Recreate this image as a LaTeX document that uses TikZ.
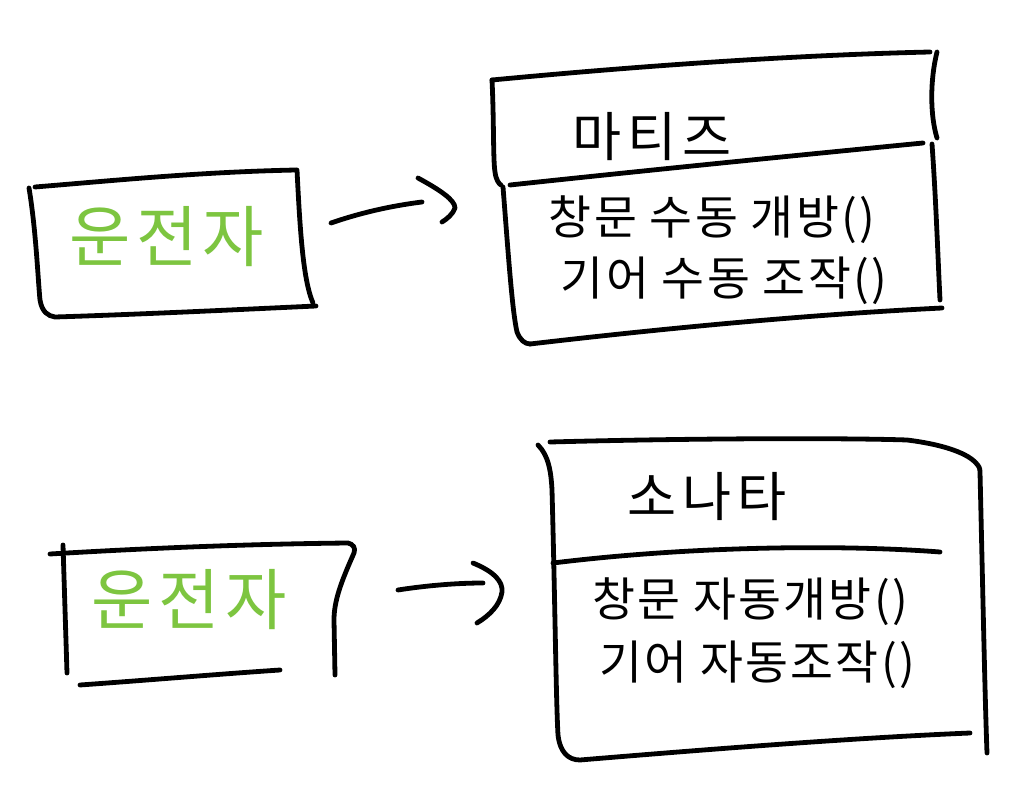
\documentclass[tikz,border=0pt]{standalone}
\usepackage{fontspec}
\newfontfamily\kr{Noto Sans CJK KR}
\newfontfamily\krdrv[LetterSpace=8]{Noto Sans CJK KR}
\newfontfamily\krttl[LetterSpace=12]{Noto Sans CJK KR}
\newfontfamily\krmth[LetterSpace=5]{Noto Sans CJK KR}
\definecolor{drvgreen}{RGB}{125,197,64}
\begin{document}
\begin{tikzpicture}[x=0.75pt,y=-0.75pt,
  ink/.style={line width=3.6pt, line cap=round, line join=round},
  drv/.style={inner sep=0pt, text=drvgreen, font=\krdrv\fontsize{50}{54}\selectfont},
  ttl/.style={inner sep=0pt, font=\krttl\fontsize{40}{44}\selectfont},
  mth/.style={inner sep=0pt, font=\krmth\fontsize{35}{38}\selectfont}]
\useasboundingbox (0,0) rectangle (1018,788);
\fill[white] (0,0) rectangle (1018,788);

% ---- Box 1: driver (top)
\draw[ink] (35,187) .. controls (120,180) and (200,172) .. (296,170);
\draw[ink] (297,170) .. controls (300,230) and (303,280) .. (313,303);
\draw[ink] (29,188) .. controls (36,230) and (38,280) .. (40,300) .. controls (42,312) and (48,316) .. (55,317)
  .. controls (150,314) and (250,309) .. (316,306);
\node[drv] (d1) at (167,237) {운전자};

% ---- Arrow 1
\coordinate (a1s) at (331,223);
\coordinate (a1e) at (422,202);
\draw[ink] (a1s) .. controls (360,213) and (390,206) .. (a1e);
\draw[ink] (418,178) .. controls (440,190) and (455,200) .. (455,208) .. controls (453,214) and (447,219) .. (442,222);

% ---- Box 2: Matiz
\draw[ink] (492,80) .. controls (650,65) and (800,55) .. (930,52);
\draw[ink] (937,52) .. controls (930,80) and (930,115) .. (937,138);
\draw[ink] (932,144) .. controls (936,200) and (938,260) .. (940,300);
\draw[ink] (492,80) .. controls (494,120) and (493,160) .. (495,172) .. controls (496,180) and (499,184) .. (501,185);
\draw[ink] (503,187) .. controls (508,250) and (512,310) .. (517,332) .. controls (520,340) and (525,344) .. (530,344);
\draw[ink] (510,185) .. controls (650,170) and (800,155) .. (923,143);
\draw[ink] (530,344) .. controls (650,330) and (800,315) .. (942,308);
\node[ttl] (t1) at (652,137) {마티즈};
\node[mth] (m11) at (712,220) {창문 수동 개방()};
\node[mth] (m12) at (724,281) {기어 수동 조작()};

% ---- Box 3: driver (bottom)
\draw[ink] (50,554) .. controls (150,548) and (250,544) .. (348,543) .. controls (353,544) and (356,548) .. (354,553)
  .. controls (342,580) and (334,600) .. (334,620) -- (335,675);
\draw[ink] (63,545) -- (67,673);
\draw[ink] (80,685) .. controls (150,680) and (220,674) .. (280,670);
\node[drv] (d2) at (189,600) {운전자};

% ---- Arrow 2
\coordinate (a2s) at (398,590);
\coordinate (a2e) at (483,583);
\draw[ink] (a2s) .. controls (430,585) and (460,583) .. (a2e);
\draw[ink] (473,563) .. controls (495,572) and (503,582) .. (502,592) .. controls (500,605) and (490,615) .. (477,623);

% ---- Box 4: Sonata
\draw[ink] (550,442) .. controls (700,438) and (850,438) .. (907,440) .. controls (940,444) and (965,452) .. (975,462)
  .. controls (979,466) and (980,468) .. (980,472) .. controls (983,600) and (985,700) .. (987,753);
\draw[ink] (538,445) .. controls (548,455) and (551,470) .. (552,490) .. controls (555,600) and (556,700) .. (558,735)
  .. controls (560,752) and (568,760) .. (580,760) .. controls (700,750) and (850,738) .. (970,733);
\draw[ink] (553,563) .. controls (700,545) and (850,545) .. (940,552);
\node[ttl] (t2) at (707,497) {소나타};
\node[mth] (m21) at (750,602) {창문 자동개방()};
\node[mth] (m22) at (757,665) {기어 자동조작()};
\end{tikzpicture}
\end{document}
